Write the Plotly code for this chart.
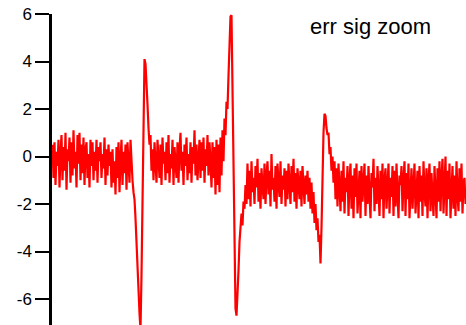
import plotly.graph_objects as go

# Error signal trace, one sample per step, split into stretches
baseline_a = [
    0.5, -0.9, 0.6, -1.2, 0.2, -0.4, 0.7, -1.3, 0.1, 0.9, -1.0, 0.4, -0.6, 1.0, -1.4, 0.3, -0.2, 0.8, -1.1, 0.6,
    -0.8, 1.1, -0.5, 0.2, -1.3, 0.9, -0.3, 1.0, -1.0, 0.5, -0.7, 0.8, -1.2, 0.3, 0.6, -0.9, 0.1, -1.3, 0.7, -0.4,
    0.6, -1.0, 0.2, -0.6, 0.7, -1.1, 0.4, -0.2, 0.6, -0.9, 0.1, -0.5, 0.8, -1.2, 0.3, -0.8, 0.5, -0.4, 0.2, -1.3,
    0.3, -1.1, -0.2, -1.6, 0.4, -0.9, 0.6, -1.5, -0.1, 0.7, -1.2, 0.2, -0.7, 0.5, -1.4, 0.6, -0.3, -1.1, 0.7, -0.6,
    -1.0, -1.5,
]
spike_1 = [-1.8, -2.6, -3.4, -4.5, -5.6, -6.6, -7.3, -5.0, -1.0, 3.0, 4.1, 3.9, 3.2, 2.2, 1.2, 0.5, 0.9]
baseline_b = [
    -0.6, 0.3, -1.0, 0.6, -0.4, -1.1, 0.7, -0.2, -0.9, 0.5, -1.2, 0.8, -0.3, 0.2, -1.0, 0.6, -0.7, 0.9, -1.1, 0.1,
    -0.5, 0.7, -1.2, 0.4, -0.1, -0.9, 0.6, -1.1, 0.3, 1.0, -0.6, 0.2, -1.2, 0.5, -0.4, 0.8, -1.0, 0.1, -0.7, 0.6,
    -1.1, 0.4, -0.3, 1.1, -0.8, 0.5, -1.0, 0.2, 0.7, -0.9, 0.6, -0.6, 0.8, -1.1, 0.3, -0.4, 0.9, -0.8, 0.6, -0.2,
]
rise_2 = [-1.3, 0.6, -0.9, 0.4, -1.6, 0.7, -1.2, 0.5, -1.5, 0.8, -0.8, 1.1, -0.2, 1.6, 0.9, 2.3, 2.0, 3.4, 4.6, 5.9, 5.95]
fall_2 = [2.5, -2.0, -5.2, -6.4, -6.7, -6.0, -4.8, -3.6, -3.0, -2.4, -2.9, -1.9, -2.2, -1.2, -2.0]
baseline_c = [
    -0.3, -1.8, -0.6, -2.1, -0.2, -1.5, -0.9, -2.0, -0.4, -1.3, -0.1, -1.9, -0.7, -2.2, -0.5, -1.2, -1.8, -0.3, -2.0, -0.8,
    -0.2, -1.6, -0.6, -2.1, 0.1, -1.4, -0.9, -1.9, -0.4, -2.2, -0.3, -1.1, -1.7, -0.2, -2.0, -0.8, -1.4, -0.5, -2.1, -0.6,
    -1.8, -0.3, -1.0, -2.0, -0.4, -1.5, -0.1, -1.9, -0.7, -2.2, -0.5, -1.3, -1.8, -0.6, -2.1, -0.4, -1.2, -2.0, -0.8, -1.6,
]
spike_3 = [
    -0.6, -1.9, -0.9, -2.2, -1.1, -2.4, -1.5, -2.8, -2.0, -3.1, -2.6, -3.6, -3.3, -4.5, -3.0, -0.5, 1.0, 1.8, 1.7, 1.2,
    0.9, 1.0, 0.1, 0.4, -0.6, 0.0, -1.1,
]
baseline_d = [
    -0.2, -1.8, -0.5, -2.1, -0.3, -1.4, -2.3, -0.6, -1.9, -0.2, -2.4, -0.9, -1.5, -0.4, -2.5, -1.0, -0.3, -2.2, -0.8, -2.6,
    -0.5, -1.7, -0.3, -2.4, -1.1, -0.6, -2.6, -0.4, -1.9, -1.2, -0.3, -2.5, -0.8, -2.0, -0.4, -1.6, -2.6, -0.7, -1.3, -0.1,
    -2.3, -0.9, -2.0, -0.4, -1.5, -2.5, -0.6, -1.8, -0.3, -2.6, -1.0, -0.5, -2.2, -1.4, -0.3, -2.4, -0.9, -1.7, -0.4, -2.5,
    -0.6, -2.1, -0.3, -1.6, -2.6, -0.8, -1.2, -0.4, -2.3, -1.0, -0.2, -2.5, -0.7, -1.8, -0.3, -2.6, -1.1, -0.5, -2.2, -0.9,
    -0.3, -2.4, -1.3, -0.6, -2.6, -0.4, -1.9, -0.8, -2.5, -0.2, -1.5, -2.1, -0.5, -2.6, -1.0, -0.3, -2.3, -0.7, -1.7, -2.5,
    -0.4, -1.2, -2.6, -0.5, -1.9, -0.2, -2.3, -0.9, -0.1, -2.4, -1.4, 0.0, -2.5, -0.6, -1.8, -0.3, -2.6, -1.0, -0.4, -2.2,
    -0.8, -2.5, -0.2, -1.6, -2.3, -0.5, -1.9, -0.3, -2.4, -1.1, -0.9, -2.0,
]

y_ticks = [-6, -4, -2, 0, 2, 4, 6]
label_text = "err sig zoom"

signal = baseline_a + spike_1 + baseline_b + rise_2 + fall_2 + baseline_c + spike_3 + baseline_d
samples = list(range(len(signal)))

fig = go.Figure()
fig.add_trace(go.Scatter(
    x=samples, y=signal, mode="lines",
    line=dict(color="#ff0000", width=2.2),
    hoverinfo="skip", showlegend=False,
))

fig.update_layout(
    width=466, height=325,
    margin=dict(l=52, r=0, t=14, b=0),
    paper_bgcolor="white", plot_bgcolor="white",
    font=dict(family="Liberation Sans, Arial, sans-serif", color="black"),
    xaxis=dict(visible=False, range=[-0.5, 413.5]),
    yaxis=dict(
        range=[-7.094, 6.0],
        tickvals=y_ticks, ticktext=[str(v) for v in y_ticks],
        ticks="outside", ticklen=14, tickwidth=1.5, tickcolor="black",
        showline=True, linewidth=2.5, linecolor="black",
        showgrid=False, zeroline=False,
        tickfont=dict(size=17, color="black"),
    ),
    annotations=[dict(
        text=label_text, xref="paper", yref="paper",
        x=0.769, y=0.961, xanchor="center", yanchor="middle",
        showarrow=False, font=dict(size=22, color="black"),
    )],
)

fig.write_html("out.html")
